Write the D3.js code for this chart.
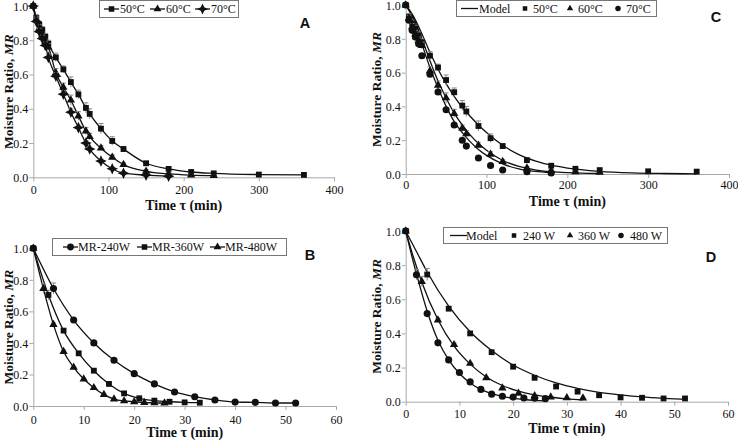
<!DOCTYPE html>
<html><head><meta charset="utf-8">
<script src="https://cdn.jsdelivr.net/npm/d3@7/dist/d3.min.js"></script>
<style>body{margin:0;background:#fff}svg{display:block}</style>
</head><body><svg id="c" width="738" height="440"></svg>
<script>
// ---------- DATA ----------
// Panel A / C : convective drying (time in min)
const tTemp = [0,4,8,12,16,20,30,40,50,60,70,75,90,105,120,150,180,210,240,300,360];
const mr50 = [1.0,0.93,0.89,0.86,0.82,0.78,0.70,0.63,0.556,0.484,0.405,0.37,0.284,0.212,0.165,0.082,0.049,0.031,0.023,0.016,0.014];
const err50 = [0,0.02,0.02,0.02,0.02,0.02,0.025,0.02,0.03,0.025,0.03,0.03,0.03,0.025,0.015,0.01,0.01,0.01,0.01,0.005,0.005];
const mr60 = [1.0,0.92,0.87,0.83,0.79,0.76,0.61,0.525,0.45,0.358,0.27,0.237,0.17,0.117,0.074,0.035,0.02,0.013,0.01];
const err60 = [0,0.02,0.02,0.02,0.02,0.02,0.025,0.025,0.03,0.025,0.02,0.02,0.015,0.015,0.01,0.01,0.01,0.005,0.005];
const mr70 = [1.0,0.91,0.85,0.81,0.77,0.70,0.59,0.485,0.38,0.29,0.20,0.165,0.095,0.05,0.024,0.013,0.006];
const err70 = [0,0.02,0.02,0.02,0.02,0.02,0.02,0.02,0.02,0.015,0.015,0.01,0.01,0.01,0.005,0.005,0.005];
// Panel C model curves
const tModel50 = [0,10,20,30,40,50,60,70,80,90,100,120,140,160,180,200,240,280,320,360];
const model50 = [1.0,0.93,0.83,0.72,0.62,0.535,0.46,0.395,0.34,0.29,0.245,0.17,0.115,0.078,0.052,0.035,0.016,0.007,0.003,0.001];
const tModel60 = [0,10,20,30,40,50,60,70,80,90,100,120,140,160,180,200,240];
const model60 = [1.0,0.92,0.80,0.67,0.55,0.45,0.36,0.29,0.23,0.18,0.14,0.08,0.045,0.025,0.014,0.008,0.003];
const tModel70 = [0,10,20,30,40,50,60,70,80,90,100,120,140,160,180];
const model70 = [1.0,0.91,0.77,0.63,0.51,0.40,0.31,0.245,0.19,0.145,0.11,0.06,0.03,0.015,0.008];
// Panel B / D : microwave drying
const t240 = [0,4,8,12,16,20,24,28,32,36,40,44,48,52];
const mr240 = [1.0,0.745,0.545,0.40,0.29,0.205,0.14,0.089,0.059,0.038,0.025,0.023,0.019,0.019];
const err240 = [0,0.035,0.01,0.01,0.01,0.01,0.005,0.005,0,0,0,0,0,0];
const t360 = [0,3,6,9,12,15,18,21,24,27,30,33];
const mr360 = [1.0,0.704,0.478,0.334,0.224,0.14,0.08,0.049,0.034,0.027,0.023,0.021];
const err360 = [0,0.03,0.01,0.01,0.005,0.005,0,0,0,0,0,0];
const t480 = [0,2,4,6,8,10,12,14,16,18,20,22,24,26];
const mr480 = [1.0,0.744,0.516,0.345,0.245,0.171,0.116,0.072,0.044,0.032,0.027,0.022,0.02,0.018];
const err480 = [0,0.03,0.01,0.01,0.005,0.005,0,0,0,0,0,0,0,0];
// Panel D model curves
const tM240 = [0,2,4,8,12,16,20,24,28,32,36,40,44,48,52];
const m240 = [1.0,0.88,0.76,0.56,0.41,0.30,0.215,0.155,0.11,0.078,0.055,0.04,0.028,0.02,0.014];
const tM360 = [0,1.5,3,6,9,12,15,18,21,24,27,30,33];
const m360 = [1.0,0.84,0.70,0.48,0.325,0.22,0.145,0.095,0.062,0.04,0.026,0.017,0.011];
const tM480 = [0,1,2,4,6,8,10,12,14,16,18,20,22,24,26];
const m480 = [1.0,0.87,0.75,0.53,0.36,0.245,0.165,0.11,0.072,0.047,0.031,0.02,0.013,0.008,0.005];

const yTicks = [0,0.2,0.4,0.6,0.8,1.0];
const xTicksTemp = [0,100,200,300,400];
const xTicksMW = [0,10,20,30,40,50,60];
const xTitle = "Time τ (min)";

// ---------- DRAW ----------
const svg = d3.select("#c");
const serif = "'Liberation Serif','Times New Roman',serif";
const sans = "'Liberation Sans',Arial,sans-serif";
const INK = "#111";

const star4 = { draw(ctx, size) {
  const r = Math.sqrt(size) * 0.75, k = r * 0.32;
  ctx.moveTo(0,-r); ctx.lineTo(k,-k); ctx.lineTo(r,0); ctx.lineTo(k,k);
  ctx.lineTo(0,r); ctx.lineTo(-k,k); ctx.lineTo(-r,0); ctx.lineTo(-k,-k); ctx.closePath();
}};
const shapes = {
  square: {type: d3.symbolSquare, size: 34},
  triangle: {type: d3.symbolTriangle, size: 30},
  circle: {type: d3.symbolCircle, size: 40},
  star: {type: star4, size: 60}
};
function sym(g, shape, x, y, scale=1) {
  const s = shapes[shape];
  g.append("path").attr("d", d3.symbol().type(s.type).size(s.size*scale)())
    .attr("transform", `translate(${x},${y})`).attr("fill", INK);
}

function panel(cfg) {
  const g = svg.append("g");
  const x = d3.scaleLinear().domain(cfg.xDomain).range(cfg.xRange);
  const y = d3.scaleLinear().domain([0,1]).range(cfg.yRange);
  // axes
  const ax = g.append("g").attr("transform", `translate(0,${cfg.yRange[0]})`)
    .call(d3.axisBottom(x).tickValues(cfg.xTicks).tickSize(4).tickSizeOuter(0).tickFormat(d3.format("d")));
  const ay = g.append("g").attr("transform", `translate(${cfg.xRange[0]},0)`)
    .call(d3.axisLeft(y).tickValues(yTicks).tickSize(4).tickSizeOuter(0).tickFormat(d3.format(".1f")));
  [ax, ay].forEach(a => {
    a.selectAll("path,line").attr("stroke", "#a8a8a8");
    a.selectAll("text").attr("font-family", serif).attr("font-size", 12).attr("fill", INK);
  });
  ax.selectAll("text").attr("dy", null).attr("y", cfg.xTickY - cfg.yRange[0]);
  ay.selectAll("text").attr("x", -5).attr("dy", "0.35em");
  // titles
  g.append("text").attr("x", (cfg.xRange[0]+cfg.xRange[1])/2).attr("y", cfg.xTitleY)
    .attr("text-anchor","middle").attr("font-family", serif).attr("font-weight","bold")
    .attr("font-size", 14).attr("fill", INK).text(xTitle);
  const yt = g.append("text").attr("transform", `translate(${cfg.yTitleX},${(cfg.yRange[0]+cfg.yRange[1])/2}) rotate(-90)`)
    .attr("text-anchor","middle").attr("font-family", serif).attr("font-weight","bold")
    .attr("font-size", 13.5).attr("fill", INK);
  yt.append("tspan").text("Moisture Ratio, ");
  yt.append("tspan").attr("font-style","italic").text("MR");
  g.append("text").attr("x", cfg.letter[1]).attr("y", cfg.letter[2]).attr("text-anchor","middle")
    .attr("font-family", sans).attr("font-weight","bold").attr("font-size", 14.5).attr("fill", INK).text(cfg.letter[0]);

  const line = d3.line().x(d => x(d[0])).y(d => y(d[1])).curve(d3.curveMonotoneX);
  // model curves
  (cfg.models||[]).forEach(m => {
    g.append("path").datum(d3.zip(m.t, m.v)).attr("d", line).attr("fill","none")
      .attr("stroke", INK).attr("stroke-width", 1.3);
  });
  // series
  cfg.series.forEach(s => {
    const pts = d3.zip(s.t.slice(0, s.v.length), s.v, s.e);
    if (cfg.connect) g.append("path").datum(pts).attr("d", line).attr("fill","none")
      .attr("stroke", INK).attr("stroke-width", 1.3);
    const eg = g.append("g").attr("stroke", "#8a8a8a").attr("stroke-width", 1);
    pts.filter(p => p[2] > 0).forEach(p => {
      const cx = x(p[0]), y1 = y(p[1]+p[2]), y2 = y(p[1]-p[2]);
      eg.append("line").attr("x1",cx).attr("x2",cx).attr("y1",y1).attr("y2",y2);
      eg.append("line").attr("x1",cx-2.5).attr("x2",cx+2.5).attr("y1",y1).attr("y2",y1);
    });
    const mg = g.append("g");
    pts.forEach(p => sym(mg, s.shape, x(p[0]), y(p[1])));
  });
  // legend
  const L = cfg.legend;
  const lg = g.append("g");
  lg.append("rect").attr("x", L.box[0]+0.5).attr("y", L.box[1]+0.5).attr("width", L.box[2]).attr("height", L.box[3])
    .attr("fill","#fff").attr("stroke","#777").attr("stroke-width",1);
  const cy = L.box[1] + L.box[3]/2 + 0.5;
  L.items.forEach(it => {
    if (it.kind === "lineMarker") {
      lg.append("line").attr("x1", it.x).attr("x2", it.x+15).attr("y1", cy).attr("y2", cy).attr("stroke", INK).attr("stroke-width",1.3);
      sym(lg, it.shape, it.x+7.5, cy, 0.9);
    } else if (it.kind === "line") {
      lg.append("line").attr("x1", it.x).attr("x2", it.x+17).attr("y1", cy).attr("y2", cy).attr("stroke", INK).attr("stroke-width",1.3);
    } else {
      sym(lg, it.shape, it.x+3, cy, 0.6);
    }
    lg.append("text").attr("x", it.tx).attr("y", cy + 4).attr("font-family", serif).attr("font-size", 12)
      .attr("fill", INK).text(it.label);
  });
}

panel({ xDomain:[0,400], xRange:[33.3,334], yRange:[177.3,6], xTicks:xTicksTemp, connect:true,
  xTickY:194.5, xTitleY:210, yTitleX:13, letter:["A",305,28],
  series:[ {t:tTemp, v:mr50, e:err50, shape:"square"}, {t:tTemp, v:mr60, e:err60, shape:"triangle"}, {t:tTemp, v:mr70, e:err70, shape:"star"} ],
  legend:{ box:[99,0,139,17], items:[
    {kind:"lineMarker", shape:"square", x:104, tx:120, label:"50°C"},
    {kind:"lineMarker", shape:"triangle", x:150, tx:166, label:"60°C"},
    {kind:"lineMarker", shape:"star", x:195, tx:211, label:"70°C"} ] }
});
panel({ xDomain:[0,400], xRange:[405.7,729], yRange:[174,5], xTicks:xTicksTemp, connect:false,
  xTickY:188.5, xTitleY:206, yTitleX:381, letter:["C",716,22],
  models:[ {t:tModel50, v:model50}, {t:tModel60, v:model60}, {t:tModel70, v:model70} ],
  series:[ {t:tTemp, v:mr50, e:err50, shape:"square"}, {t:tTemp, v:mr60, e:err60, shape:"triangle"}, {t:tTemp, v:mr70, e:err70.map(()=>0), shape:"circle"} ],
  legend:{ box:[456,0,200,16], items:[
    {kind:"line", x:461, tx:479, label:"Model"},
    {kind:"marker", shape:"square", x:522, tx:533, label:"50°C"},
    {kind:"marker", shape:"triangle", x:567, tx:578, label:"60°C"},
    {kind:"marker", shape:"circle", x:615, tx:626, label:"70°C"} ] }
});
panel({ xDomain:[0,60], xRange:[33.3,336], yRange:[406,248.3], xTicks:xTicksMW, connect:true,
  xTickY:423.5, xTitleY:437, yTitleX:13, letter:["B",310,260],
  series:[ {t:t240, v:mr240, e:err240, shape:"circle"}, {t:t360, v:mr360, e:err360, shape:"square"}, {t:t480, v:mr480, e:err480, shape:"triangle"} ],
  legend:{ box:[52,238,234,17], items:[
    {kind:"lineMarker", shape:"circle", x:63, tx:78, label:"MR-240W"},
    {kind:"lineMarker", shape:"square", x:137, tx:152, label:"MR-360W"},
    {kind:"lineMarker", shape:"triangle", x:210, tx:225, label:"MR-480W"} ] }
});
panel({ xDomain:[0,60], xRange:[405.7,728], yRange:[401.7,231], xTicks:xTicksMW, connect:false,
  xTickY:418.5, xTitleY:433, yTitleX:381, letter:["D",711,262],
  models:[ {t:tM240, v:m240}, {t:tM360, v:m360}, {t:tM480, v:m480} ],
  series:[ {t:t240, v:mr240, e:err240, shape:"square"}, {t:t360, v:mr360, e:err360, shape:"triangle"}, {t:t480, v:mr480, e:err480, shape:"circle"} ],
  legend:{ box:[443,227,224,16], items:[
    {kind:"line", x:450, tx:466, label:"Model"},
    {kind:"marker", shape:"square", x:511, tx:523, label:"240 W"},
    {kind:"marker", shape:"triangle", x:567, tx:578, label:"360 W"},
    {kind:"marker", shape:"circle", x:618, tx:630, label:"480 W"} ] }
});
</script></body></html>
